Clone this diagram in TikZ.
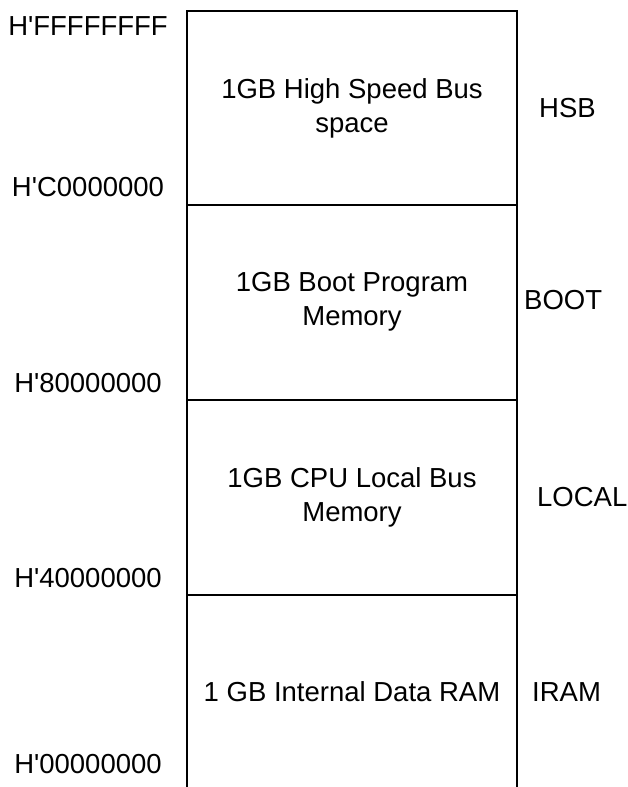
\documentclass[tikz,border=0pt]{standalone}
\usepackage{fontspec}
\setmainfont{Liberation Sans}[Ligatures=TeXOff]
\begin{document}
\begin{tikzpicture}[x=1pt,y=-1pt,
		txt/.style={inner sep=0pt,font=\fontsize{27.5}{34}\selectfont},
		region/.style={txt,align=center},
		addr/.style={txt},
		tag/.style={txt,anchor=west}]
		\useasboundingbox (0,0) rectangle (628,787);
		\coordinate (tl) at (187,11);
		\coordinate (tr) at (517,11);
		\coordinate (bl) at (187,787);
		\coordinate (br) at (517,787);
		\draw [line width=1.2] (bl) -- (tl) -- (tr) -- (br);
		\foreach \y/\n in {205/c, 400/b, 595/a} {
			\draw [line width=1.2] (187,\y) coordinate (l\n) -- (517,\y) coordinate (r\n);
		}
		\node (hsbspace) [region] at (352,108) {1GB High Speed Bus\\space};
		\node (bootmem) [region] at (352,302) {1GB Boot Program\\Memory};
		\node (localmem) [region] at (352,497) {1GB CPU Local Bus\\Memory};
		\node (iram) [region] at (352,692) {1 GB Internal Data RAM};
		\node (aF) [addr] at (88,26) {H'FFFFFFFF};
		\node (aC) [addr] at (88,187) {H'C0000000};
		\node (a8) [addr] at (88,383.5) {H'80000000};
		\node (a4) [addr] at (88,578.5) {H'40000000};
		\node (a0) [addr] at (88,764) {H'00000000};
		\node (thsb) [tag] at (539,108) {HSB};
		\node (tboot) [tag] at (524,300) {BOOT};
		\node (tlocal) [tag] at (537,497) {LOCAL};
		\node (tiram) [tag] at (532,692) {IRAM};
	\end{tikzpicture}
\end{document}
